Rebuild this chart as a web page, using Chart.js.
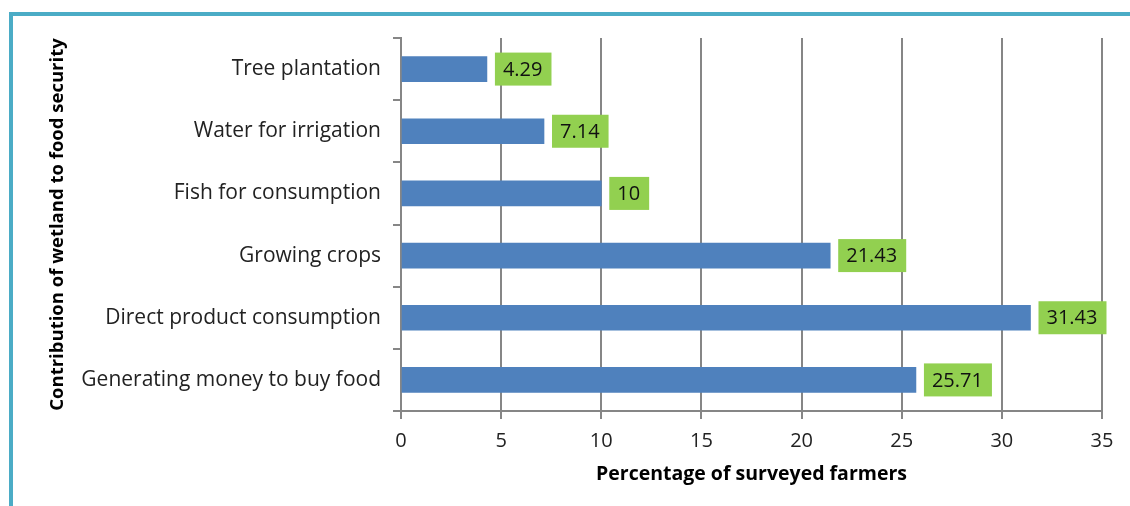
<!DOCTYPE html>
<html>
<head>
<meta charset="utf-8">
<script src="https://cdn.jsdelivr.net/npm/chart.js@4"></script>
<style>
  html, body { margin: 0; padding: 0; background: #fff; overflow: hidden; }
  #wrap { position: relative; width: 1130px; height: 506px; }
  #frame { position: absolute; left: 9px; top: 12px; width: 1200px; height: 600px;
           border-left: 4px solid #4bacc6; border-top: 4px solid #4bacc6; }
  canvas { position: absolute; left: 0; top: 0; }
</style>
</head>
<body>
<div id="wrap">
  <div id="frame"></div>
  <canvas id="chart" width="1130" height="506"></canvas>
</div>
<script>
var categories = [
  'Tree plantation',
  'Water for irrigation',
  'Fish for consumption',
  'Growing crops',
  'Direct product consumption',
  'Generating money to buy food'
];
var percentages = [4.29, 7.14, 10, 21.43, 31.43, 25.71];
var xTicks = [0, 5, 10, 15, 20, 25, 30, 35];

var fontFamily = '"Open Sans", "Noto Sans", sans-serif';

// green value boxes next to each bar
var valueBoxes = {
  id: 'valueBoxes',
  afterDatasetsDraw: function(chart) {
    var ctx = chart.ctx;
    var meta = chart.getDatasetMeta(0);
    ctx.save();
    ctx.font = '20px ' + fontFamily;
    ctx.textBaseline = 'middle';
    ctx.textAlign = 'left';
    meta.data.forEach(function(bar, i) {
      var text = String(chart.data.datasets[0].data[i]);
      var w = ctx.measureText(text).width + 17;
      var h = 33;
      var x = bar.x + 8;
      var y = bar.y - h / 2;
      ctx.fillStyle = '#92d050';
      ctx.fillRect(x, y, w, h);
      ctx.fillStyle = '#111';
      ctx.fillText(text, x + 8, bar.y + 1);
    });
    ctx.restore();
  }
};

var ctx = document.getElementById('chart').getContext('2d');
var chart = new Chart(ctx, {
  type: 'bar',
  data: {
    labels: categories,
    datasets: [{
      data: percentages,
      backgroundColor: '#4f81bd',
      borderWidth: 0,
      barThickness: 25
    }]
  },
  options: {
    indexAxis: 'y',
    responsive: false,
    animation: false,
    layout: { padding: { top: 38, right: 28, left: 0, bottom: 0 } },
    plugins: {
      legend: { display: false },
      tooltip: { enabled: false }
    },
    scales: {
      x: {
        min: 0,
        max: 35,
        afterBuildTicks: function(axis) {
          axis.ticks = xTicks.map(function(v) { return { value: v }; });
        },
        afterFit: function(axis) { axis.height = 95; },
        grid: { color: '#868686', lineWidth: 2, tickLength: 8 },
        border: { color: '#868686', width: 2 },
        ticks: { color: '#222', font: { family: fontFamily, size: 20 }, padding: 10, maxRotation: 0 },
        title: {
          display: true,
          text: 'Percentage of surveyed farmers',
          color: '#000',
          font: { family: fontFamily, size: 19.5, weight: 'bold' },
          padding: { top: 0, bottom: 20 }
        }
      },
      y: {
        afterFit: function(axis) { axis.width = 401; },
        grid: { display: true, drawOnChartArea: false, color: '#868686', lineWidth: 2, tickLength: 8, offset: true },
        border: { color: '#868686', width: 2 },
        ticks: { color: '#222', font: { family: fontFamily, size: 21 }, padding: 12 },
        title: {
          display: true,
          text: 'Contribution of wetland to food security',
          color: '#000',
          font: { family: fontFamily, size: 18.5, weight: 'bold' },
          padding: { top: 47, bottom: 0 }
        }
      }
    }
  },
  plugins: [valueBoxes]
});
</script>
</body>
</html>
